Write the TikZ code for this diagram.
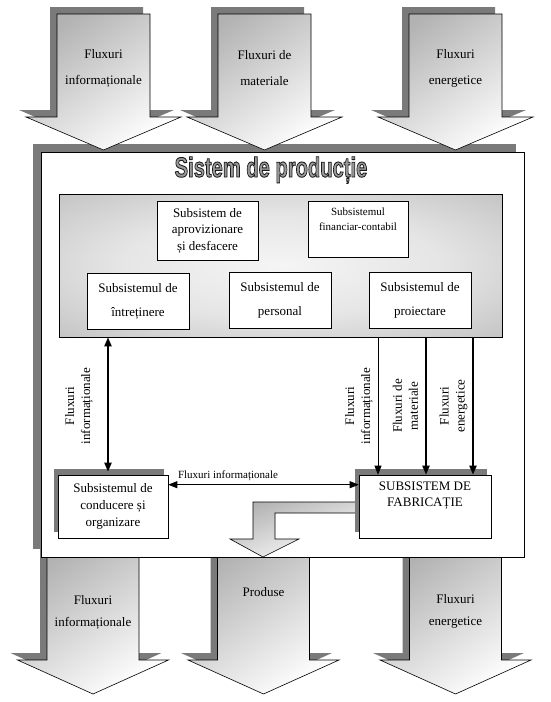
\documentclass[tikz,border=0pt]{standalone}
\usepackage{fontspec}
\setmainfont{Liberation Serif}
\newfontfamily\titlefont{Liberation Sans}
\usepackage{graphicx}
\usetikzlibrary{arrows.meta,positioning,shadows}

\tikzset{
    flow/.style={draw, line width=0.6pt, top color=black!30, bottom color=white, shading angle=35,
        general shadow={fill=black!52, draw=none, shadow xshift=-7pt, shadow yshift=7pt}},
    flowtext/.style={align=center, font=\fontsize{13}{#1}\selectfont},
    sbox/.style={draw, fill=white, line width=0.6pt, align=center},
    shbox/.style={sbox, general shadow={fill=black!52, draw=none, shadow xshift=-4pt, shadow yshift=6pt}},
    rotlbl/.style={rotate=90, align=center, font=\fontsize{13}{16}\selectfont},
}
\pgfdeclareradialshading{panelshade}{\pgfpoint{0bp}{0bp}}{%
    color(0bp)=(white!96!black); color(18bp)=(white!90!black);
    color(45bp)=(black!30); color(70bp)=(black!32)}

\begin{document}
\begin{tikzpicture}[x=1pt, y=-1pt, >={Triangle[length=9pt, width=7pt]}]
    \useasboundingbox (0,0) rectangle (551,702);

    % iesiri
    \foreach \cx/\ty/\txt [count=\i] in {93/612/{Fluxuri\\informaționale}, 263.5/592/{Produse}, 455.5/611.5/{Fluxuri\\energetice}} {
        \draw[flow] (\cx-46,550) -- (\cx+46,550) -- (\cx+46,660) -- (\cx+75.5,660)
            -- (\cx,694) -- (\cx-75.5,660) -- (\cx-46,660) -- cycle;
        \node[flowtext=22] (out\i) at (\cx,\ty) {\txt};
    }

    \node[draw, fill=white, line width=0.8pt, minimum width=483, minimum height=405,
        general shadow={fill=black!52, draw=none, shadow xshift=-8pt, shadow yshift=8pt}]
        (sys) at (282.5,354.5) {};
    \node[anchor=base, inner sep=0pt] (title) at (271,177) {\scalebox{0.72}[1]{\titlefont\bfseries
        \fontsize{28}{28}\selectfont\color{black!40}\special{pdf:literal direct 2 Tr 0.9 w 0.1 G}Sistem de producție\special{pdf:literal direct 0 Tr}}};

    % intrari
    \foreach \cx/\txt [count=\i] in {103.5/{Fluxuri\\informaționale}, 264.5/{Fluxuri de\\materiale}, 455.5/{Fluxuri\\energetice}} {
        \draw[flow] (\cx-46.5,14) -- (\cx+46.5,14) -- (\cx+46.5,117) -- (\cx+77.5,117)
            -- (\cx,150) -- (\cx-77.5,117) -- (\cx-46.5,117) -- cycle;
        \node[flowtext=26] (in\i) at (\cx,68) {\txt};
    }

    \node[draw, line width=0.6pt, shading=panelshade, minimum width=443, minimum height=143] (panel) at (280.5,265.5) {};

    \node[sbox, minimum width=101, minimum height=59, font=\fontsize{13}{16.5}\selectfont] (aprov) at (207.5,230.5)
        {Subsistem de\\aprovizionare\\și desfacere};
    \node[sbox, minimum width=100, minimum height=56] (fin) at (358,229) {};
    \node[align=center, font=\fontsize{11}{15}\selectfont] (fintxt) at ([yshift=9.5]fin.center)
        {Subsistemul\\financiar-contabil};
    \node[sbox, minimum width=102, minimum height=56, font=\fontsize{13}{24}\selectfont] (intr) at (138,301)
        {Subsistemul de\\întreținere};
    \node[sbox, minimum width=102, minimum height=56, font=\fontsize{13}{24}\selectfont] (pers) at (280,300)
        {Subsistemul de\\personal};
    \node[sbox, minimum width=102, minimum height=56, font=\fontsize{13}{24}\selectfont] (proi) at (420,300)
        {Subsistemul de\\proiectare};

    % produse
    \draw[line width=0.6pt, top color=black!30, bottom color=white, shading angle=20]
        (358,502) -- (253,502) -- (253,539) -- (230,539) -- (263,557) -- (299,539) -- (275,539) -- (275,513) -- (358,513);

    \node[shbox, minimum width=110, minimum height=63, font=\fontsize{13}{17}\selectfont] (cond) at (113,506.5)
        {Subsistemul de\\conducere și\\organizare};
    \node[shbox, minimum width=132, minimum height=63] (fab) at (425,506.5) {};
    \node[align=center, font=\fontsize{13}{16}\selectfont] (fabtxt) at ([yshift=10.5]fab.center)
        {SUBSISTEM DE\\FABRICAȚIE};

    \draw[line width=2pt, <->, shorten <=3pt] ([xshift=-5]cond.north) -- ([xshift=-5]cond.north |- panel.south)
        node[midway, xshift=-29, rotlbl] {Fluxuri\\informaționale};
    \draw[line width=0.8pt, ->] ([xshift=-47]fab.north |- panel.south) -- ([xshift=-47]fab.north)
        node[midway, xshift=-19, rotlbl] {Fluxuri\\informaționale};
    \draw[line width=2pt, ->] ([xshift=1]fab.north |- panel.south) -- ([xshift=1]fab.north)
        node[midway, xshift=-20.5, rotlbl] {Fluxuri de\\materiale};
    \draw[line width=2pt, ->] ([xshift=48]fab.north |- panel.south) -- ([xshift=48]fab.north)
        node[midway, xshift=-19.5, rotlbl] {Fluxuri\\energetice};
    \draw[line width=0.8pt, <->] ([yshift=-10]cond.north east) -- ([yshift=-10]fab.north west)
        node[pos=0, anchor=south west, xshift=6, font=\fontsize{11}{13}\selectfont] {Fluxuri informaționale};
\end{tikzpicture}
\end{document}
